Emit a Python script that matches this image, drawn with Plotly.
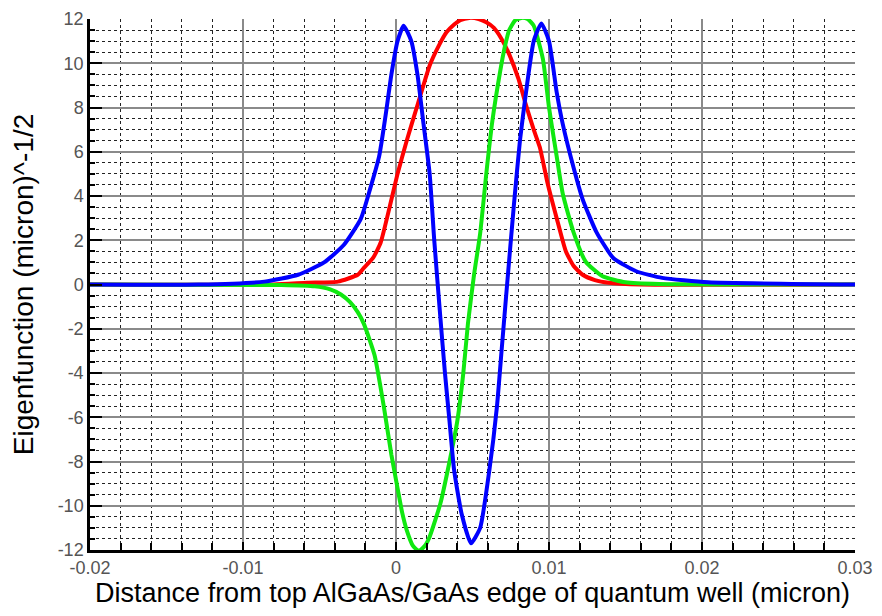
import plotly.graph_objects as go

# ---- data ----
red_x = [-0.02, -0.008, -0.0058, -0.0038, -0.0025, -0.0021, -0.0015, -0.001, -0.0004, 0.0001,
         0.0007, 0.0014, 0.0022, 0.0028, 0.0033, 0.0038, 0.0042, 0.0048, 0.0054, 0.0059,
         0.0064, 0.0069, 0.0074, 0.008, 0.0085, 0.009, 0.0094, 0.0099, 0.0105, 0.0111,
         0.0116, 0.0122, 0.013, 0.0139, 0.016, 0.03]
red_y = [0, 0, 0.08, 0.13, 0.44, 0.75, 1.2, 1.9, 3.55, 5.0,
         6.5, 8.1, 9.9, 10.8, 11.4, 11.75, 11.95, 12.05, 12.0, 11.85,
         11.6, 11.1, 10.4, 9.3, 8.1, 7.0, 6.2, 4.6, 3.0, 1.5,
         0.85, 0.44, 0.2, 0.08, 0, 0]

green_x = [-0.02, -0.0075, -0.0053, -0.0043, -0.0036, -0.003, -0.0025, -0.0021, -0.0014, -0.0008,
           -0.0003, 0.0001, 0.0004, 0.0007, 0.0011, 0.0015, 0.0019, 0.0022, 0.0029, 0.0035,
           0.004, 0.0044, 0.0047, 0.0051, 0.0055, 0.0059, 0.0063, 0.0068, 0.0071, 0.0074,
           0.0078, 0.0082, 0.0086, 0.009, 0.0096, 0.01, 0.0105, 0.0109, 0.0116, 0.0124,
           0.0135, 0.015, 0.0172, 0.03]
green_y = [0, -0.02, -0.08, -0.22, -0.45, -0.8, -1.25, -1.78, -3.2, -5.5,
           -7.7, -9.2, -10.3, -11.1, -11.8, -12.05, -11.8, -11.4, -9.9, -8.0,
           -6.2, -4.0, -1.78, 0.44, 2.3, 5.0, 7.4, 9.6, 10.7, 11.5,
           11.95, 12.05, 12.0, 11.7, 10.2, 8.0, 5.8, 4.1, 2.37, 1.03,
           0.37, 0.1, 0.02, 0]

blue_x = [-0.02, -0.0129, -0.0086, -0.0064, -0.0047, -0.0034, -0.0023, -0.0017, -0.0011, -0.0007,
          -0.0003, 0.0001, 0.0005, 0.001, 0.0014, 0.0018, 0.0022, 0.0025, 0.0029, 0.0032,
          0.0035, 0.0038, 0.0043, 0.0049, 0.0055, 0.0061, 0.0066, 0.0069, 0.0072, 0.0077,
          0.0081, 0.0085, 0.009, 0.0095, 0.01, 0.0105, 0.0109, 0.0116, 0.0122, 0.0131,
          0.0142, 0.0157, 0.0174, 0.0204, 0.03]
blue_y = [0, 0, 0.13, 0.44, 1.0, 1.8, 2.97, 4.3, 5.8, 7.55,
          9.5, 11.0, 11.7, 11.0, 9.5, 7.25, 5.0, 2.0, -1.5, -4.0,
          -6.2, -8.4, -10.4, -11.7, -11.0, -8.4, -5.5, -3.0, -0.5, 3.55,
          6.5, 8.7, 11.0, 11.8, 11.0, 8.7, 7.25, 5.3, 3.85, 2.37,
          1.2, 0.6, 0.3, 0.1, 0]

x_tick_vals = [-0.02, -0.01, 0, 0.01, 0.02, 0.03]
x_tick_text = ["-0.02", "-0.01", "0", "0.01", "0.02", "0.03"]
y_tick_vals = [-12, -10, -8, -6, -4, -2, 0, 2, 4, 6, 8, 10, 12]
y_tick_text = ["-12", "-10", "-8", "-6", "-4", "-2", "0", "2", "4", "6", "8", "10", "12"]
well_lines = [-0.01, 0, 0.01]

fig = go.Figure()
for xs, ys, col in [(red_x, red_y, "#ff0000"), (green_x, green_y, "#10e810"), (blue_x, blue_y, "#0000ff")]:
    fig.add_trace(go.Scatter(x=xs, y=ys, mode="lines",
                             line=dict(color=col, width=4, shape="spline", smoothing=0.5),
                             showlegend=False, hoverinfo="skip"))

for xv in well_lines:
    fig.add_shape(type="line", xref="x", yref="paper", x0=xv, x1=xv, y0=0, y1=1,
                  line=dict(color="black", width=1.8), layer="between")

# page body adds an 8px offset; figure sized so every label stays inside the visible window
fig.update_layout(
    width=866, height=600,
    margin=dict(l=82, r=19, t=11, b=58),
    paper_bgcolor="white", plot_bgcolor="white",
    font=dict(family="Liberation Sans, Arial, sans-serif", color="black"),
)
fig.update_xaxes(
    range=[-0.02, 0.03], tickvals=x_tick_vals, ticktext=x_tick_text, automargin=False,
    ticklabeloverflow="allow",
    tickfont=dict(size=18, color="#555555"),
    showgrid=True, gridcolor="#8a8a8a", gridwidth=1.5, zeroline=False,
    showline=True, linecolor="black", linewidth=2.5,
    ticks="inside", ticklen=8, tickwidth=2, tickcolor="black",
    minor=dict(dtick=0.002, showgrid=True, griddash="dot", gridcolor="#222222", gridwidth=1.2,
               ticks="inside", ticklen=7, tickwidth=1.5, tickcolor="black"),
    title=dict(text="Distance from top AlGaAs/GaAs edge of quantum well (micron)",
               font=dict(size=27, color="black"), standoff=4),
)
fig.update_yaxes(
    range=[-12, 12], tickvals=y_tick_vals, ticktext=y_tick_text, automargin=False,
    ticklabeloverflow="allow",
    tickfont=dict(size=18, color="#555555"),
    showgrid=True, gridcolor="#8a8a8a", gridwidth=1.5, zeroline=False,
    showline=True, linecolor="black", linewidth=2.5,
    ticks="inside", ticklen=12, tickwidth=2, tickcolor="black",
    minor=dict(dtick=0.5, showgrid=True, griddash="dot", gridcolor="#222222", gridwidth=1.2,
               ticks="inside", ticklen=5, tickwidth=1.5, tickcolor="black"),
    title=dict(text="Eigenfunction (micron)^-1/2", font=dict(size=28, color="black"), standoff=18),
)

fig.write_html("out.html")
